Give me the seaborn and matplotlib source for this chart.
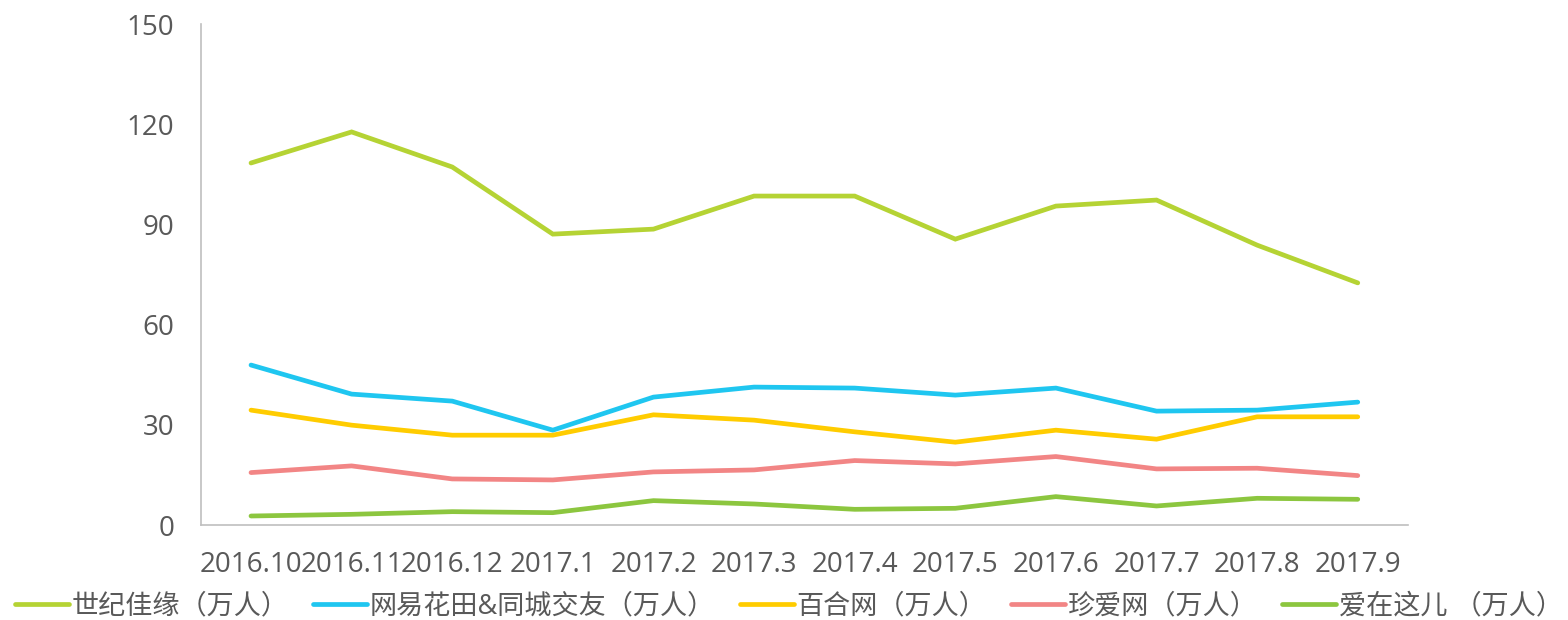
import pandas as pd
import numpy as np
import matplotlib.pyplot as plt
import seaborn as sns

# data
months = ['2016.10', '2016.11', '2016.12', '2017.1', '2017.2', '2017.3',
          '2017.4', '2017.5', '2017.6', '2017.7', '2017.8', '2017.9']
jiayuan = [108.4, 117.7, 107.2, 87.1, 88.6, 98.5, 98.5, 85.6, 95.5, 97.3, 83.8, 72.5]
huatian = [47.9, 39.2, 37.1, 28.4, 38.3, 41.3, 41.0, 38.9, 41.0, 34.1, 34.4, 36.8]
baihe = [34.4, 29.9, 26.9, 26.9, 33.0, 31.4, 27.9, 24.8, 28.4, 25.7, 32.4, 32.4]
zhenai = [15.7, 17.7, 13.8, 13.5, 15.9, 16.5, 19.3, 18.3, 20.5, 16.8, 17.0, 14.8]
aizai = [2.7, 3.2, 4.0, 3.7, 7.3, 6.3, 4.7, 5.0, 8.5, 5.7, 8.0, 7.7]

series_names = ['世纪佳缘（万人）', '网易花田&同城交友（万人）', '百合网（万人）',
                '珍爱网（万人）', '爱在这儿 （万人）']
series_vals = [jiayuan, huatian, baihe, zhenai, aizai]
colors = ['#B5D334', '#1FC6F0', '#FFCC00', '#F28585', '#8CC63F']

df = pd.concat([pd.DataFrame({'month': months, 'value': v, 'series': n})
                for n, v in zip(series_names, series_vals)], ignore_index=True)

sns.set_style('white')
plt.rcParams['font.family'] = ['Open Sans', 'Noto Sans CJK SC', 'DejaVu Sans']
text_color = '#595959'

fig = plt.figure(figsize=(15.68, 6.2), dpi=100)
ax = fig.add_axes([0.128, 0.1532, 0.77, 0.808])

sns.lineplot(data=df, x='month', y='value', hue='series', palette=colors,
             sort=False, linewidth=3.4, ax=ax, legend=False)
for line in ax.get_lines():
    line.set_solid_capstyle('round')
    line.set_solid_joinstyle('miter')

ax.set_xlim(-0.5, len(months) - 0.5)
ax.set_ylim(0, 150)
ax.set_yticks(np.arange(0, 151, 30))
ax.set_xlabel('')
ax.set_ylabel('')
ax.tick_params(axis='both', length=0, labelsize=20, labelcolor=text_color)
ax.tick_params(axis='y', pad=19)
ax.tick_params(axis='x', pad=19)

for side in ['top', 'right']:
    ax.spines[side].set_visible(False)
for side in ['left', 'bottom']:
    ax.spines[side].set_color('#BFBFBF')
    ax.spines[side].set_linewidth(1.2)

handles = [plt.Line2D([], [], color=c, linewidth=3.4, solid_capstyle='round') for c in colors]
leg = fig.legend(handles, series_names, loc='lower center', bbox_to_anchor=(0.503, -0.04),
                 ncol=5, frameon=False, fontsize=19.5, handlelength=2.0,
                 handletextpad=0.1, columnspacing=0.9)
for t in leg.get_texts():
    t.set_color(text_color)

fig.savefig('out.png', dpi=100)
